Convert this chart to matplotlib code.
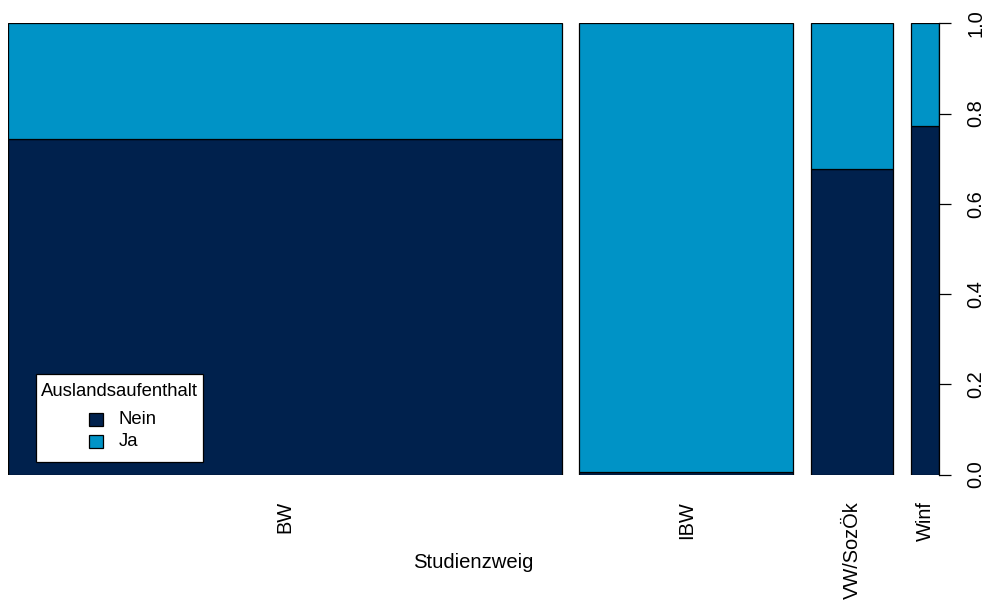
import numpy as np
import matplotlib
matplotlib.use("Agg")
import matplotlib.pyplot as plt
from matplotlib.patches import Rectangle

plt.rcParams['font.family'] = ['Liberation Sans', 'DejaVu Sans']

studienzweig = ['BW', 'IBW', 'VW/SozÖk', 'Winf']
nein = np.array([323, 1, 44, 17])
ja = np.array([112, 167, 21, 5])
legend_labels = ['Nein', 'Ja']
col_nein = '#00214D'
col_ja = '#0093C6'

total = nein + ja
widths = total / total.sum()
off = 0.02
lefts = np.concatenate([[0], np.cumsum(widths + off)[:-1]])
p_nein = nein / total

W, H = 992, 602
fig = plt.figure(figsize=(W / 100, H / 100), dpi=100)
ax = fig.add_axes([8 / W, 1 - 474.5 / H, 931 / W, 451.2 / H])


def fx(x):
    return x / W


def fy(y):
    return 1 - y / H


ax.bar(lefts, p_nein, widths, align='edge', color=col_nein,
       edgecolor='black', linewidth=0.9)
ax.bar(lefts, 1 - p_nein, widths, bottom=p_nein, align='edge', color=col_ja,
       edgecolor='black', linewidth=0.9)

ax.set_xlim(0, lefts[-1] + widths[-1])
ax.set_ylim(0, 1)
for s in ax.spines.values():
    s.set_visible(False)

ax.set_xticks(lefts + widths / 2)
ax.set_xticklabels(studienzweig, rotation=90, fontsize=14.4)
ax.tick_params(axis='x', length=0, pad=19)
# x label placed by hand, the tall VW/SozÖk label would push it off the figure
fig.text(fx(473.5), fy(562), 'Studienzweig', fontsize=14.6,
         ha='center', va='center')

ax.yaxis.tick_right()
ax.set_yticks(np.arange(0, 1.01, 0.2))
ax.set_yticklabels(['0.0', '0.2', '0.4', '0.6', '0.8', '1.0'], rotation=90,
                   va='center', fontsize=14.4)
ax.tick_params(axis='y', length=8.6, width=0.9, pad=11)
ax.plot([1, 1], [0, 1], transform=ax.transAxes, color='black', lw=0.9,
        clip_on=False)

# legend box drawn by hand (R style: title on top, keys centred below)
fig.patches.append(Rectangle((fx(36), fy(462)), fx(167), 88 / H,
                             transform=fig.transFigure, facecolor='white',
                             edgecolor='black', linewidth=0.9, zorder=5))
fig.text(fx(119.5), fy(391), 'Auslandsaufenthalt', fontsize=13.3,
         ha='center', va='center', zorder=6)
for lab, col, yc in zip(legend_labels, [col_nein, col_ja], [419, 441]):
    fig.patches.append(Rectangle((fx(89), fy(yc + 6.5)), fx(14), 13 / H,
                                 transform=fig.transFigure, facecolor=col,
                                 edgecolor='black', linewidth=0.9, zorder=6))
    fig.text(fx(119), fy(yc), lab, fontsize=13.3, ha='left', va='center',
             zorder=6)

fig.savefig('out.png', dpi=100)
